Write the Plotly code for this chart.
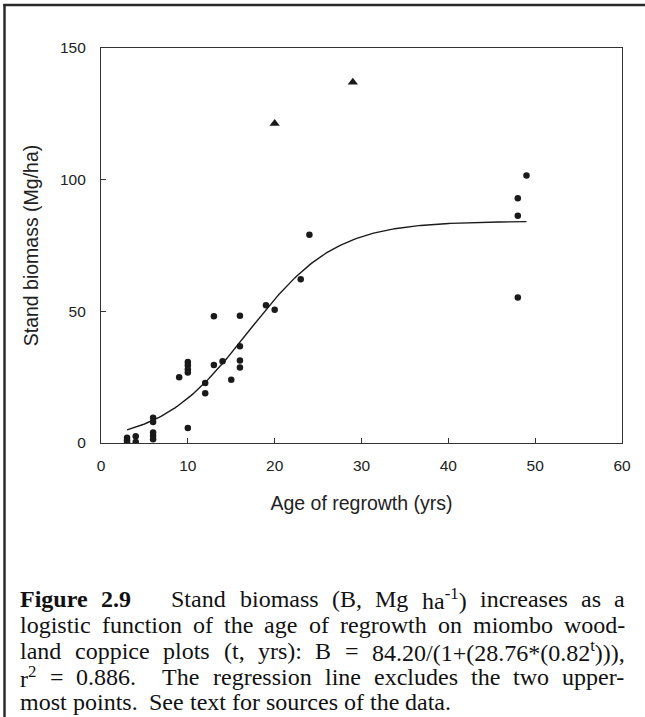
import re
import plotly.graph_objects as go

# ---- data ----
age_yrs = [3, 3, 3, 4, 4, 6, 6, 6, 6, 6, 9, 10, 10, 10, 10, 10, 12, 12, 13, 13,
           14, 15, 16, 16, 16, 16, 19, 20, 23, 24, 48, 48, 48, 49]
biomass = [2.0, 1.0, 0.3, 2.6, 0.4, 9.6, 8.0, 4.0, 2.8, 1.4, 25.0, 5.7, 30.8, 29.5,
           28.0, 26.8, 22.8, 18.9, 48.1, 29.6, 31.0, 24.0, 48.3, 36.7, 31.3, 28.7,
           52.3, 50.6, 62.2, 79.1, 92.9, 86.3, 55.3, 101.6]
excluded_age = [20, 29]
excluded_biomass = [121.3, 137.0]

# logistic regression parameters stated in the caption
fit_A, fit_C, fit_R = 84.20, 28.76, 0.82
fit_t_start, fit_t_end = 3, 49

x_ticks = [0, 10, 20, 30, 40, 50, 60]
y_ticks = [0, 50, 100, 150]

caption_lines = [
    "<b>Figure</b> <b>2.9</b>   Stand biomass (B, Mg ha<sup>-1</sup>) increases as a",
    "logistic function of the age of regrowth on miombo wood-",
    "land coppice plots (t, yrs): B = 84.20/(1+(28.76*(0.82<sup>t</sup>))),",
    "r<sup>2</sup> = 0.886.  The regression line excludes the two upper-",
    "most points.  See text for sources of the data.",
]

fit_t = [fit_t_start + i * (fit_t_end - fit_t_start) / 200 for i in range(201)]
fit_B = [fit_A / (1 + fit_C * fit_R ** t) for t in fit_t]

W, H = 645, 717
PL, PR, PT, PB = 101, 622, 48, 443   # plot area in page pixels
pw, ph = PR - PL, PB - PT


def px(x):
    return (x - PL) / pw


def py(y):
    return (PB - y) / ph


INK = "#1a1a1a"
fig = go.Figure()
fig.add_trace(go.Scatter(x=fit_t, y=fit_B, mode="lines",
                         line=dict(color=INK, width=1.4), hoverinfo="skip"))
fig.add_trace(go.Scatter(x=age_yrs, y=biomass, mode="markers",
                         marker=dict(symbol="circle", size=6.5, color=INK)))
fig.add_trace(go.Scatter(x=excluded_age, y=excluded_biomass, mode="markers",
                         marker=dict(symbol="triangle-up", size=9, color=INK)))

axis_common = dict(showline=True, linecolor="#333", linewidth=1.2, mirror=True,
                   ticks="inside", ticklen=5, tickwidth=1, tickcolor="#333",
                   showgrid=False, zeroline=False,
                   tickfont=dict(family="Liberation Sans", size=15.5, color="#222"))
fig.update_xaxes(range=[0, 60], tickvals=x_ticks, ticktext=[str(v) for v in x_ticks],
                 ticklabelstandoff=8,
                 title=dict(text="Age of regrowth (yrs)", standoff=23,
                            font=dict(family="Liberation Sans", size=19.5, color="#222")),
                 **axis_common)
fig.update_yaxes(range=[0, 150], tickvals=y_ticks, ticktext=[str(v) for v in y_ticks],
                 ticklabelstandoff=11,
                 title=dict(text="Stand biomass (Mg/ha)", standoff=16,
                            font=dict(family="Liberation Sans", size=19.5, color="#222")),
                 **axis_common)

# outer frame (left and top edges)
frame = dict(color="#2a2a2a", width=2.5)
shapes = [
    dict(type="line", xref="paper", yref="paper", x0=px(4.5), x1=px(4.5), y0=py(4), y1=py(H + 5), line=frame),
    dict(type="line", xref="paper", yref="paper", x0=px(3.3), x1=px(W + 5), y0=py(5), y1=py(5), line=frame),
]

# ---- justified caption (Times metrics, per 1000 em) ----
TIMES = {' ': 250, '!': 333, '(': 333, ')': 333, '*': 500, '+': 564, ',': 250, '-': 333,
         '.': 250, '/': 278, ':': 278, '=': 564}
TIMES.update({d: 500 for d in '0123456789'})
TIMES.update(dict(zip('ABCDEFGHIJKLMNOPQRSTUVWXYZ',
                      [722, 667, 667, 722, 611, 556, 722, 722, 333, 389, 722, 611, 889, 722,
                       722, 556, 722, 667, 556, 611, 722, 722, 944, 722, 722, 611])))
TIMES.update(dict(zip('abcdefghijklmnopqrstuvwxyz',
                      [444, 500, 444, 500, 444, 333, 500, 500, 278, 278, 500, 278, 778, 500,
                       500, 500, 500, 333, 389, 278, 500, 500, 722, 500, 500, 444])))
BOLD = dict(TIMES)
BOLD.update({'F': 611, 'i': 278, 'g': 500, 'u': 556, 'r': 444, 'e': 444})


def text_width(s, size):
    w = 0.0
    for part in re.split(r'(<sup>.*?</sup>|<b>.*?</b>)', s):
        if part.startswith('<sup>'):
            w += sum(TIMES.get(c, 500) for c in part[5:-6]) * 0.7
        elif part.startswith('<b>'):
            w += sum(BOLD.get(c, 500) for c in part[3:-4])
        else:
            w += sum(TIMES.get(c, 500) for c in part)
    return w * size / 1000.0


CAP_SIZE = 24
cap_font = dict(family="Liberation Serif", size=CAP_SIZE, color="#111")
cap_left, cap_right = 20, 625
cap_y = [599, 625, 651, 677, 702]

annotations = []
for i, (line, yy) in enumerate(zip(caption_lines, cap_y)):
    tokens = re.split(r'( +)', line)
    words = tokens[0::2]
    gaps = [len(g) for g in tokens[1::2]]
    space = TIMES[' '] * CAP_SIZE / 1000.0
    widths = [text_width(w, CAP_SIZE) for w in words]
    natural = sum(widths) + sum(gaps) * space
    last = i == len(caption_lines) - 1
    extra = 0.0 if last else max(0.0, (cap_right - cap_left - natural) / sum(gaps))
    x = cap_left
    for j, (w, ww) in enumerate(zip(words, widths)):
        annotations.append(dict(text=w, xref="paper", yref="paper", x=px(x), y=py(yy),
                                xanchor="left", yanchor="middle", showarrow=False,
                                borderpad=0, borderwidth=0, font=cap_font))
        if j < len(gaps):
            x += ww + gaps[j] * (space + extra)

fig.update_layout(width=W, height=H,
                  margin=dict(l=PL, r=W - PR, t=PT, b=H - PB, autoexpand=False),
                  paper_bgcolor="white", plot_bgcolor="white", showlegend=False,
                  shapes=shapes, annotations=annotations)

fig.write_html("out.html", config={"displayModeBar": False},
               post_script="document.body.style.margin='0';document.body.style.overflow='hidden';")
